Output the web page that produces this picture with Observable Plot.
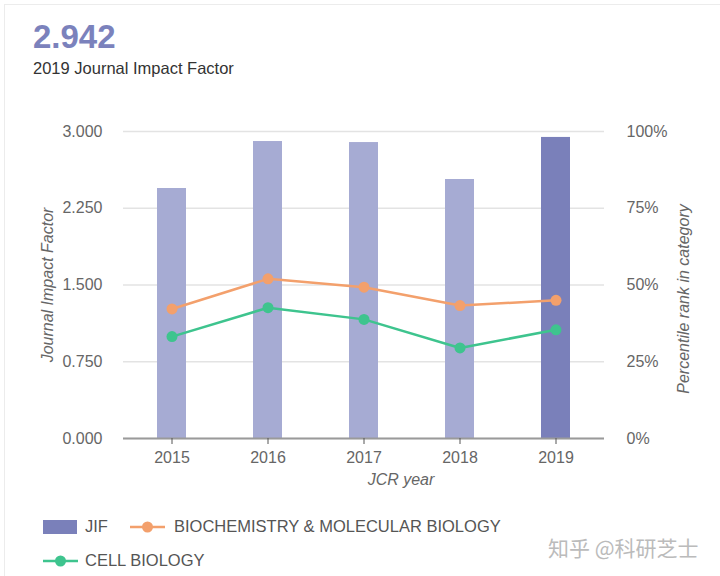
<!DOCTYPE html>
<html><head><meta charset="utf-8">
<script src="https://cdn.jsdelivr.net/npm/d3@7"></script>
<script src="https://cdn.jsdelivr.net/npm/@observablehq/plot@0.6"></script>
<style>
body{margin:0;background:#fff;font-family:"Liberation Sans",Arial,sans-serif;}
#wrap{position:relative;width:720px;height:576px;overflow:hidden;}
#frame{position:absolute;left:4px;top:4px;width:720px;height:580px;border-top:1px solid #ececec;border-left:1px solid #ececec;}
#title{position:absolute;left:33px;top:18px;font-size:33px;font-weight:bold;color:#7b82bc;}
#sub{position:absolute;left:33px;top:59px;font-size:16.5px;color:#333;}
#chart{position:absolute;left:0;top:100px;}
.leg{position:absolute;font-size:16.5px;color:#555;white-space:nowrap;}
#wm{position:absolute;left:548px;top:532px;font-size:21px;color:#bbb;font-family:"Noto Sans CJK SC",sans-serif;}
</style></head>
<body><div id="wrap"><div id="frame"></div>
<div id="title"></div><div id="sub"></div><div id="chart"></div>
<div class="leg" style="left:43px;top:519px"><svg width="35" height="16"><rect x="0" y="1" width="34" height="14" id="sw"/></svg></div>
<div class="leg" style="left:85px;top:517px">JIF</div>
<div class="leg" style="left:130px;top:519px"><svg width="36" height="16"><line x1="0" y1="8" x2="35" y2="8" stroke-width="2.5" id="l1"/><circle cx="17.5" cy="8" r="5.5" id="c1"/></svg></div>
<div class="leg" style="left:174px;top:517px" id="lab1"></div>
<div class="leg" style="left:43px;top:553px"><svg width="36" height="16"><line x1="0" y1="8" x2="35" y2="8" stroke-width="2.5" id="l2"/><circle cx="17.5" cy="8" r="5.5" id="c2"/></svg></div>
<div class="leg" style="left:85px;top:551px" id="lab2"></div>
<div id="wm">知乎 @科研芝士</div>
</div>
<script>
const years = ["2015","2016","2017","2018","2019"];
const jif = [2.443, 2.902, 2.892, 2.531, 2.942];
const biochem = [42.2, 52.0, 49.3, 43.3, 45.0];
const cellBio = [33.2, 42.6, 38.8, 29.5, 35.4];
const jifTicks = [0, 0.75, 1.5, 2.25, 3];
const pctTicks = [0, 25, 50, 75, 100];
const seriesNames = ["JIF", "BIOCHEMISTRY & MOLECULAR BIOLOGY", "CELL BIOLOGY"];
const titleText = "2.942";
const subtitleText = "2019 Journal Impact Factor";

const barLight = "#a6abd3", barDark = "#7a80ba", orange = "#f3a06c", green = "#3ec48e";

document.getElementById("title").textContent = titleText;
document.getElementById("sub").textContent = subtitleText;
document.getElementById("lab1").textContent = seriesNames[1];
document.getElementById("lab2").textContent = seriesNames[2];
document.getElementById("sw").setAttribute("fill", barDark);
document.getElementById("l1").setAttribute("stroke", orange);
document.getElementById("c1").setAttribute("fill", orange);
document.getElementById("l2").setAttribute("stroke", green);
document.getElementById("c2").setAttribute("fill", green);

const bars = years.map((y, i) => ({year: y, v: jif[i], last: i === years.length - 1}));
const pctMax = 100, jifMax = 3;
const toY = p => p / pctMax * jifMax;
const l1 = years.map((y, i) => ({year: y, v: toY(biochem[i])}));
const l2 = years.map((y, i) => ({year: y, v: toY(cellBio[i])}));
const rightTicks = pctTicks.map(toY);

const chart = Plot.plot({
  width: 720, height: 400,
  marginTop: 31, marginBottom: 62, marginLeft: 123, marginRight: 116,
  style: {fontSize: "16px", fontFamily: "Liberation Sans, Arial, sans-serif", color: "#666", background: "transparent"},
  x: {type: "band", domain: years, paddingInner: 0.7, paddingOuter: 0.35},
  y: {domain: [0, 3]},
  marks: [
    Plot.gridY(jifTicks, {stroke: "#e3e3e3", strokeOpacity: 1, strokeWidth: 1.5}),
    Plot.barY(bars, {x: "year", y: "v", fill: d => d.last ? barDark : barLight}),
    Plot.ruleY([0], {stroke: "#9a9a9a", strokeWidth: 2}),
    Plot.axisY(jifTicks, {anchor: "left", tickFormat: d3.format(".3f"), tickSize: 0, tickPadding: 21, label: null, fill: "#666", fontSize: 16}),
    Plot.axisY(rightTicks, {anchor: "right", tickFormat: d => Math.round(d / jifMax * pctMax) + "%", tickSize: 0, tickPadding: 22, label: null, fill: "#666", fontSize: 16}),
    Plot.axisX({tickSize: 6, tickPadding: 7, label: null, stroke: "#555", fill: "#666", fontSize: 16}),
    Plot.line(l1, {x: "year", y: "v", stroke: orange, strokeWidth: 2.5}),
    Plot.dot(l1, {x: "year", y: "v", fill: orange, r: 5.5}),
    Plot.line(l2, {x: "year", y: "v", stroke: green, strokeWidth: 2.5}),
    Plot.dot(l2, {x: "year", y: "v", fill: green, r: 5.5}),
    Plot.text(["Journal Impact Factor"], {frameAnchor: "left", textAnchor: "middle", rotate: -90, dx: -76, fontStyle: "italic", fill: "#666", fontSize: 16}),
    Plot.text(["Percentile rank in category"], {frameAnchor: "right", textAnchor: "middle", rotate: -90, dx: 79, dy: 14, fontStyle: "italic", fill: "#666", fontSize: 16}),
    Plot.text(["JCR year"], {frameAnchor: "bottom", dx: 37, dy: 46, fontStyle: "italic", fill: "#666", fontSize: 16})
  ]
});
document.getElementById("chart").appendChild(chart);
</script></body></html>
